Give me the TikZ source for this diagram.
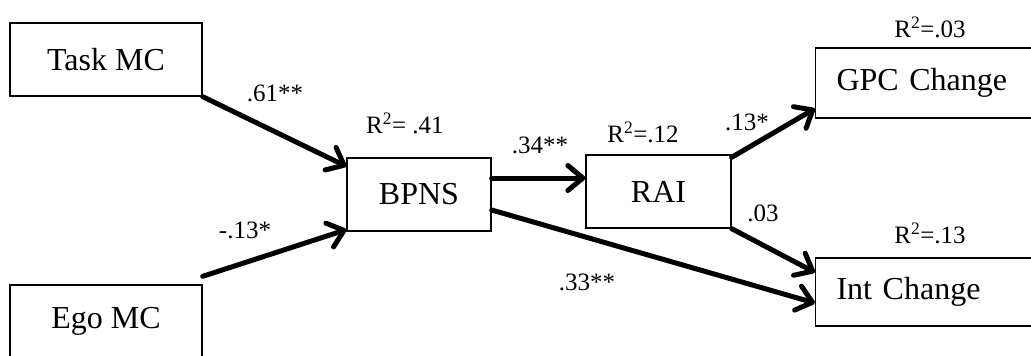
\documentclass[tikz,border=0pt]{standalone}
\usepackage{fontspec}
\setmainfont{Liberation Serif}
\usepackage{tikz}
\usetikzlibrary{
  arrows.meta,
  positioning,
}

\begin{document}
\begin{tikzpicture}[
    x=1pt, y=-1pt,
    var/.style={rectangle, draw=black, line width=1.3pt, inner sep=0pt,
                minimum width=192pt, minimum height=73pt,
                font=\fontsize{32}{38}\selectfont},
    coef/.style={inner sep=0pt, font=\fontsize{25}{30}\selectfont},
    effect/.style={line width=5pt, line cap=round, line join=round,
                   -{Straight Barb[length=15pt, width=25pt, line cap=round, line join=round]}},
  ]
  \useasboundingbox (0,0) rectangle (1031,356);

  \node[var] (task) at (106,59.5)  {Task MC};
  \node[var] (ego)  at (106,321.5) {Ego MC};
  \node[var, minimum width=144pt] (bpns) at (419,194.5) {BPNS};
  \node[var, minimum width=145pt] (rai)  at (658.5,191.5) {RAI};
  \node[var, minimum width=204pt, minimum height=70pt, text width=183pt,
        inner xsep=21pt, align=left] (gpc) at (928,83) {GPC Change};
  \node[var, minimum width=204pt, minimum height=68pt, text width=183pt,
        inner xsep=21pt, align=left] (int) at (928,292) {Int Change};

  \draw[effect] (task.south east) -- ([yshift=-9pt]bpns.north west);
  \draw[effect] ([yshift=8pt]ego.north east) -- ([yshift=2pt]bpns.south west);
  \draw[effect] ([yshift=16.5pt]bpns.east) -- ([yshift=13.5pt]rai.west);
  \draw[effect] ([yshift=-15.5pt]bpns.east) -- ([yshift=-11pt]int.west);
  \draw[effect] ([yshift=-3pt]rai.north east) -- ([yshift=10pt]gpc.south west);
  \draw[effect] (rai.south east) -- ([yshift=-15pt]int.north west);

  % path coefficients and explained variance
  \node[coef] (l1) at (275,93)  {.61**};
  \node[coef] (l2) at (245,230) {-.13*};
  \node[coef] (l3) at (540,145) {.34**};
  \node[coef] (l4) at (587,282) {.33**};
  \node[coef] (l5) at (747,122) {.13*};
  \node[coef] (l6) at (763,213) {.03};
  \node[coef] (r1) at (405,123) {R\textsuperscript{2}= .41};
  \node[coef] (r2) at (643,132) {R\textsuperscript{2}=.12};
  \node[coef] (r3) at (930,27)  {R\textsuperscript{2}=.03};
  \node[coef] (r4) at (930,233) {R\textsuperscript{2}=.13};
\end{tikzpicture}
\end{document}
